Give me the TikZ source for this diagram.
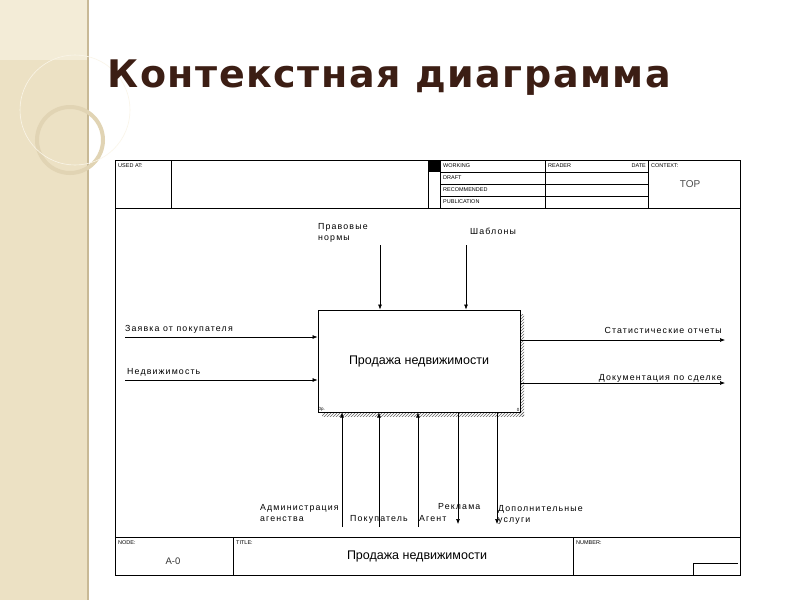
\documentclass[tikz,border=0pt]{standalone}
\usepackage{fontspec}
\setmainfont{Liberation Sans}
\newfontfamily\titlefont[LetterSpace=4]{DejaVu Sans}
\newfontfamily\lblfont[LetterSpace=13]{Liberation Sans}
\usetikzlibrary{arrows.meta,patterns}
\begin{document}
\begin{tikzpicture}[x=1pt,y=-1pt,
  ln/.style={line width=0.6pt},
  arr/.style={ln,-{Latex[length=5pt,width=4pt]}},
  tiny/.style={font=\fontsize{5.5}{6}\selectfont,inner sep=1pt,anchor=west},
  lbl/.style={font=\lblfont\fontsize{8.8}{10.5}\selectfont,inner sep=1pt,align=left}]
\useasboundingbox (0,0) rectangle (800,600);
\fill[white] (0,0) rectangle (800,600);
\fill[color={rgb,255:red,236;green,225;blue,196}] (0,0) rectangle (88,600);
\fill[color={rgb,255:red,243;green,236;blue,215}] (0,0) rectangle (88,60);
\draw[color={rgb,255:red,200;green,185;blue,150},line width=1.5pt] (88,0)--(88,600);
\draw[color={rgb,255:red,225;green,212;blue,180},line width=4pt] (70,140) circle (33);
\draw[color={rgb,255:red,250;green,245;blue,232},line width=0.6pt] (75,110) circle (55);
\node[font=\titlefont\bfseries\fontsize{38}{42}\selectfont,color={rgb,255:red,60;green,30;blue,20},anchor=west] (title) at (104,78) {Контекстная диаграмма};
% frame
\draw[line width=1pt] (115,160) rectangle (740,575);
\draw[ln] (115,208)--(740,208);
\draw[ln] (171,160)--(171,208) (428,160)--(428,208) (440,160)--(440,208) (545,160)--(545,208) (648,160)--(648,208);
\draw[ln] (440,172)--(648,172) (440,184)--(648,184) (440,196)--(648,196);
\fill (428,160) rectangle (440,172);
\node[tiny] at (117,166) {USED AT:};
\node[tiny] at (442,166) {WORKING};
\node[tiny] at (442,178) {DRAFT};
\node[tiny] at (442,190) {RECOMMENDED};
\node[tiny] at (442,202) {PUBLICATION};
\node[tiny] at (547,166) {READER};
\node[tiny,anchor=east] at (647,166) {DATE};
\node[tiny] at (650,166) {CONTEXT:};
\node[font=\fontsize{10}{12}\selectfont,color=black!70] at (690,184) {TOP};
% footer
\draw[ln] (115,537)--(740,537) (233,537)--(233,575) (573,537)--(573,575);
\draw[ln] (693,575)--(693,563)--(738,563);
\node[tiny] at (117,543) {NODE:};
\node[tiny] at (235,543) {TITLE:};
\node[tiny] at (575,543) {NUMBER:};
\node[font=\fontsize{9.5}{11}\selectfont,color=black!80] at (173,561) {A-0};
\node[font=\fontsize{12.5}{14}\selectfont] at (417,556) {Продажа недвижимости};
% box
\fill[pattern=north east lines,pattern color=black!60] (322,412) rectangle (524,416);
\fill[pattern=north east lines,pattern color=black!60] (520,314) rectangle (524,416);
\node[draw,line width=1pt,minimum width=202pt,minimum height=102pt,inner sep=0,font=\fontsize{12.5}{14}\selectfont] (box) at (419,361) {Продажа недвижимости};
\node[font=\fontsize{4.5}{5}\selectfont,anchor=south west,inner sep=1pt] at (box.south west) {0р.};
\node[font=\fontsize{4.5}{5}\selectfont,anchor=south east,inner sep=1pt] at (box.south east) {0};
% coordinates
\coordinate (i1) at (125,337); \coordinate (i2) at (125,380);
\coordinate (o1) at (725,340); \coordinate (o2) at (725,383);
\coordinate (c1) at (380,245); \coordinate (c2) at (466,245);
\coordinate (m1) at (342,527); \coordinate (m2) at (379,527); \coordinate (m3) at (418,527);
\coordinate (d1) at (458,524); \coordinate (d2) at (497,524);
\draw[arr] (i1) -- (i1 -| box.west);
\draw[arr] (i2) -- (i2 -| box.west);
\draw[arr] (o1 -| box.east) -- (o1);
\draw[arr] (o2 -| box.east) -- (o2);
\draw[arr] (c1) -- (c1 |- box.north);
\draw[arr] (c2) -- (c2 |- box.north);
\draw[arr] (m1) -- (m1 |- box.south);
\draw[arr] (m2) -- (m2 |- box.south);
\draw[arr] (m3) -- (m3 |- box.south);
\draw[arr] (d1 |- box.south) -- (d1);
\draw[arr] (d2 |- box.south) -- (d2);
% labels
\node[lbl,anchor=west] at (317,233) {Правовые\\нормы};
\node[lbl,anchor=west] at (469,231) {Шаблоны};
\node[lbl,anchor=west] at (124,329) {Заявка от покупателя};
\node[lbl,anchor=west] at (126,372) {Недвижимость};
\node[lbl,anchor=east] at (723,330) {Статистические отчеты};
\node[lbl,anchor=east] at (723,378) {Документация по сделке};
\node[lbl,anchor=west] at (259,513) {Администрация\\агенства};
\node[lbl,anchor=west] at (349,519) {Покупатель};
\node[lbl,anchor=west] at (418,519) {Агент};
\node[lbl,anchor=west] at (437,507) {Реклама};
\node[lbl,anchor=west] at (497,515) {Дополнительные\\услуги};
\end{tikzpicture}
\end{document}
